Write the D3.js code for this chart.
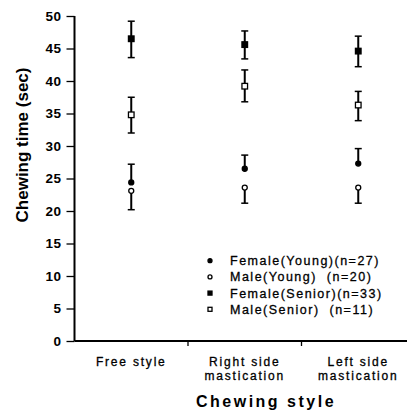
<!DOCTYPE html>
<html>
<head>
<meta charset="utf-8">
<script src="https://cdn.jsdelivr.net/npm/d3@7"></script>
<style>
  body { margin: 0; background: #fff; }
  svg { font-family: "Liberation Sans", Arial, sans-serif; }
</style>
</head>
<body>
<svg id="chart" width="407" height="415"></svg>
<script>
// categories and tick labels
const categories = ["Free style", "Right side mastication", "Left side mastication"];
const categoryLines = [["Free style"], ["Right side", "mastication"], ["Left side", "mastication"]];
const yTicks = [0, 5, 10, 15, 20, 25, 30, 35, 40, 45, 50];

// series means and error bar ends (sec)
const femaleYoungMean = [24.4, 26.5, 27.3];
const femaleYoungHigh = [27.2, 28.6, 29.6];
const maleYoungMean = [23.1, 23.6, 23.6];
const maleYoungLow = [20.2, 21.2, 21.2];
const femaleSeniorMean = [46.5, 45.6, 44.6];
const femaleSeniorLow = [43.6, 43.4, 42.2];
const femaleSeniorHigh = [49.2, 47.7, 46.9];
const maleSeniorMean = [34.8, 39.2, 36.3];
const maleSeniorLow = [32.0, 36.8, 33.9];
const maleSeniorHigh = [37.5, 41.7, 38.4];

const legendLabels = ["Female(Young)(n=27)", "Male(Young)  (n=20)", "Female(Senior)(n=33)", "Male(Senior)  (n=11)"];

const series = [
  { mean: femaleYoungMean, low: femaleYoungMean, high: femaleYoungHigh, shape: "circle", fill: "#000" },
  { mean: maleYoungMean, low: maleYoungLow, high: maleYoungMean, shape: "circle", fill: "#fff" },
  { mean: femaleSeniorMean, low: femaleSeniorLow, high: femaleSeniorHigh, shape: "square", fill: "#000" },
  { mean: maleSeniorMean, low: maleSeniorLow, high: maleSeniorHigh, shape: "square", fill: "#fff" }
];

const svg = d3.select("#chart");
const plotLeft = 74.5, plotRight = 415, plotTop = 16, plotBottom = 341;

const x = d3.scaleBand().domain(categories).range([plotLeft, plotRight]);
const y = d3.scaleLinear().domain([0, 50]).range([plotBottom, plotTop]);

// y axis
const yAxis = svg.append("g")
  .attr("transform", `translate(${plotLeft},0)`)
  .call(d3.axisLeft(y).tickValues(yTicks).tickSize(8).tickPadding(5));
yAxis.select(".domain").attr("stroke-width", 2).attr("d", `M0,${plotTop}V${plotBottom}`);
yAxis.selectAll(".tick line").attr("stroke-width", 1.3);
yAxis.selectAll(".tick text")
  .attr("font-size", 13.5).attr("font-weight", "bold")
  .attr("letter-spacing", 0.5)
  .attr("font-family", "Liberation Sans, Arial, sans-serif");

// x axis line and boundary ticks
svg.append("line")
  .attr("x1", plotLeft).attr("x2", 407)
  .attr("y1", plotBottom).attr("y2", plotBottom)
  .attr("stroke", "#000").attr("stroke-width", 2);
svg.selectAll(".xtick")
  .data(categories.slice(0, 2))
  .join("line")
  .attr("x1", d => x(d) + x.bandwidth()).attr("x2", d => x(d) + x.bandwidth())
  .attr("y1", plotBottom).attr("y2", plotBottom + 5)
  .attr("stroke", "#000").attr("stroke-width", 1.3);

// category labels
svg.selectAll(".xlab")
  .data(categories)
  .join("text")
  .attr("text-anchor", "middle")
  .attr("font-size", 12)
  .attr("letter-spacing", 1.8)
  .attr("stroke", "#000").attr("stroke-width", 0.3)
  .each(function (d, i) {
    const t = d3.select(this);
    categoryLines[i].forEach((line, j) => {
      t.append("tspan")
        .attr("x", x(d) + x.bandwidth() / 2)
        .attr("y", 366 + j * 13.5)
        .text(line);
    });
  });

// axis titles
svg.append("text")
  .attr("x", 266).attr("y", 407)
  .attr("text-anchor", "middle")
  .attr("font-size", 16).attr("font-weight", "bold")
  .attr("letter-spacing", 2.5)
  .text("Chewing style");
svg.append("text")
  .attr("transform", "translate(28,145) rotate(-90)")
  .attr("text-anchor", "middle")
  .attr("font-size", 17).attr("font-weight", "bold")
  .attr("font-family", "Liberation Sans Narrow, Arial Narrow, Liberation Sans, sans-serif")
  .text("Chewing time (sec)");

// error bars and markers
const cx = c => x(c) + x.bandwidth() / 2;
function marker(g, shape, fill, px, py, size) {
  if (shape === "circle") {
    g.append("circle").attr("cx", px).attr("cy", py).attr("r", size / 2)
      .attr("fill", fill).attr("stroke", "#000").attr("stroke-width", 1.3);
  } else {
    g.append("rect").attr("x", px - size / 2).attr("y", py - size / 2).attr("width", size).attr("height", size)
      .attr("fill", fill).attr("stroke", "#000").attr("stroke-width", 1.3);
  }
}

const plot = svg.append("g");
series.forEach(s => {
  categories.forEach((c, i) => {
    const px = cx(c);
    const g = plot.append("g");
    g.append("line")
      .attr("x1", px).attr("x2", px)
      .attr("y1", y(s.low[i])).attr("y2", y(s.high[i]))
      .attr("stroke", "#000").attr("stroke-width", 2);
    [s.low[i], s.high[i]].forEach(v => {
      if (v === s.mean[i]) return;
      g.append("line")
        .attr("x1", px - 3.5).attr("x2", px + 3.5)
        .attr("y1", y(v)).attr("y2", y(v))
        .attr("stroke", "#000").attr("stroke-width", 1.5);
    });
    marker(g, s.shape, s.fill, px, y(s.mean[i]), s.shape === "circle" ? 5 : 5.6);
  });
});

// legend
const legend = svg.append("g");
series.forEach((s, i) => {
  const ly = 260.7 + i * 16.2;
  marker(legend, s.shape, s.fill, 210, ly, 4);
  legend.append("text")
    .attr("x", 230).attr("y", ly + 4.5)
    .attr("font-size", 12.5)
    .attr("letter-spacing", 1.5)
    .attr("stroke", "#000").attr("stroke-width", 0.3)
    .attr("xml:space", "preserve")
    .style("white-space", "pre")
    .text(legendLabels[i]);
});
</script>
</body>
</html>
